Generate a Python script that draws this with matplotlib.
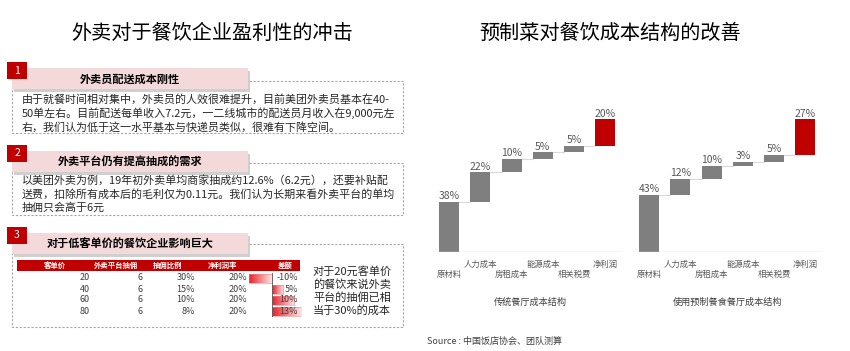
import matplotlib
matplotlib.use('Agg')
import matplotlib.pyplot as plt
from matplotlib.patches import Rectangle
import numpy as np

plt.rcParams['font.family'] = ['Noto Sans CJK SC', 'DejaVu Sans']

# --- data ---
left_title = '外卖对于餐饮企业盈利性的冲击'
right_title = '预制菜对餐饮成本结构的改善'

section_titles = ['外卖员配送成本刚性', '外卖平台仍有提高抽成的需求', '对于低客单价的餐饮企业影响巨大']
section1_lines = ['由于就餐时间相对集中，外卖员的人效很难提升，目前美团外卖员基本在40-',
                  '50单左右。目前配送每单收入7.2元，一二线城市的配送员月收入在9,000元左',
                  '右，我们认为低于这一水平基本与快递员类似，很难有下降空间。']
section2_lines = ['以美团外卖为例，19年初外卖单均商家抽成约12.6%（6.2元），还要补贴配',
                  '送费，扣除所有成本后的毛利仅为0.11元。我们认为长期来看外卖平台的单均',
                  '抽佣只会高于6元']

table_cols = ['客单价', '外卖平台抽佣', '抽佣比例', '净利润率', '差额']
price = [20, 40, 60, 80]
platform_fee = [6, 6, 6, 6]
fee_ratio = [30, 15, 10, 8]
net_margin = [20, 20, 20, 20]
gap = [-10, 5, 10, 13]
note_lines = ['对于20元客单价', '的餐饮来说外卖', '平台的抽佣已相', '当于30%的成本']

cost_items = ['原材料', '人力成本', '房租成本', '能源成本', '相关税费', '净利润']
traditional = [38, 22, 10, 5, 5, 20]
prepared = [43, 12, 10, 3, 5, 27]
chart_names = ['传统餐厅成本结构', '使用预制餐食餐厅成本结构']
source = 'Source : 中国饭店协会、团队测算'

RED = '#c00000'
GREY = '#7f7f7f'
PINK = '#f4d9da'
TXT = '#262626'

W, H = 850, 351
fig = plt.figure(figsize=(W / 100, H / 100), dpi=100)


def px_axes(left, top, width, height, **kw):
    return fig.add_axes([left / W, 1 - (top + height) / H, width / W, height / H], **kw)


ov = fig.add_axes([0, 0, 1, 1], zorder=2)
ov.set_xlim(0, W)
ov.set_ylim(H, 0)
ov.axis('off')

ov.text(212, 33, left_title, fontsize=14.5, ha='center', va='center', color='black')
ov.text(610, 33, right_title, fontsize=14.5, ha='center', va='center', color='black')

# --- left side: three numbered sections ---
head_tops = [68, 151, 233]
boxes = [(81, 133), (163, 215), (244, 327)]
for k, (title, top, (b0, b1)) in enumerate(zip(section_titles, head_tops, boxes)):
    ov.add_patch(Rectangle((12, b0), 391, b1 - b0, fill=False, edgecolor='#a6a6a6',
                           lw=0.8, ls=(0, (2, 1.5))))
    ov.add_patch(Rectangle((14.5, top + 2.5), 236, 21, color='#b0b0b0', alpha=0.6, lw=0))
    ov.add_patch(Rectangle((12, top), 236, 21, color=PINK, lw=0))
    ov.add_patch(Rectangle((7, top - 6), 20, 17, color=RED, lw=0))
    ov.text(17, top + 2.5, str(k + 1), color='white', fontsize=7.5, ha='center', va='center')
    ov.text(130, top + 11, title, fontsize=8, fontweight='bold', ha='center', va='center', color='black')

for lines, y0 in [(section1_lines, 99), (section2_lines, 180)]:
    for i, line in enumerate(lines):
        ov.text(22, y0 + 14 * i, line, fontsize=7.9, ha='left', va='center', color=TXT)

# table
ov.add_patch(Rectangle((17, 260), 283, 11, color=RED, lw=0))
for name, cx in zip(table_cols, [55, 116, 168, 223, 285]):
    ov.text(cx, 265.5, name, color='white', fontsize=5.3, fontweight='bold', ha='center', va='center')

col_right = [90, 143, 195, 247, 298]
for i in range(len(price)):
    y = 278 + 11 * i
    cells = [f'{price[i]}', f'{platform_fee[i]}', f'{fee_ratio[i]}%', f'{net_margin[i]}%', f'{gap[i]}%']
    for txt, xr in zip(cells, col_right):
        ov.text(xr, y, txt, fontsize=6.5, ha='right', va='center', color='#404040')

# gradient data bars in the gap column
db = px_axes(249, 273, 52, 44, zorder=1)
rows = np.arange(len(gap))
bars = db.barh(rows, gap, height=0.82, color='none', edgecolor='#f08080', lw=0.4)
cmap = matplotlib.colors.LinearSegmentedColormap.from_list('g', ['#fde6e6', '#e8202a'])
for b, v in zip(bars, gap):
    x0, w = b.get_x(), b.get_width()
    grad = np.linspace(1, 0, 64)[None, :]
    ext = [x0, x0 + w, b.get_y() + b.get_height(), b.get_y()]
    if v < 0:
        grad = grad[:, ::-1]
    im = db.imshow(grad, extent=ext, cmap=cmap, vmin=0, vmax=1, aspect='auto',
                   interpolation='bilinear')
    im.set_clip_path(b)
db.axvline(0, color='#595959', lw=0.6)
db.set_xlim(-10, 13)
db.set_ylim(3.5, -0.5)
db.axis('off')

for i, line in enumerate(note_lines):
    ov.text(313, 271 + 13 * i, line, fontsize=8, ha='left', va='center', color=TXT)


# --- right side: waterfalls ---
def waterfall(ax, values):
    vals = np.array(values)
    bottoms = np.concatenate([[0], np.cumsum(vals)[:-1]])
    tops = bottoms + vals
    x = np.arange(len(vals))
    colors = [GREY] * (len(vals) - 1) + [RED]
    ax.bar(x, vals, bottom=bottoms, width=0.64, color=colors)
    for i in range(len(vals) - 1):
        ax.plot([x[i] + 0.32, x[i + 1] - 0.32], [tops[i], tops[i]], color='#d9d9d9', lw=0.8)
    for i, v in enumerate(vals):
        ax.annotate(f'{v}%', (x[i], tops[i]), xytext=(0, 0.5), textcoords='offset points',
                    ha='center', va='bottom', fontsize=7.5, color='#595959')
        off = -16 if i % 2 == 0 else -9
        ax.annotate(cost_items[i], (x[i], 0), xytext=(0, off), textcoords='offset points',
                    ha='center', va='center', fontsize=6, color='#595959', annotation_clip=False)
    ax.axhline(0, color='#d9d9d9', lw=1)
    ax.set_xlim(-0.51, 5.53)
    ax.set_ylim(0, 110)
    ax.axis('off')


ax1 = px_axes(433, 106, 189, 146)
waterfall(ax1, traditional)
ax2 = px_axes(633, 106, 189, 146)
waterfall(ax2, prepared)

ov.text(530, 302, chart_names[0], fontsize=6.6, ha='center', va='center', color='#404040', style='italic')
ov.text(728, 302, chart_names[1], fontsize=6.6, ha='center', va='center', color='#404040', style='italic')
ov.text(427, 341, source, fontsize=6.5, ha='left', va='center', color='#404040', style='italic')

fig.savefig('out.png', dpi=100)
